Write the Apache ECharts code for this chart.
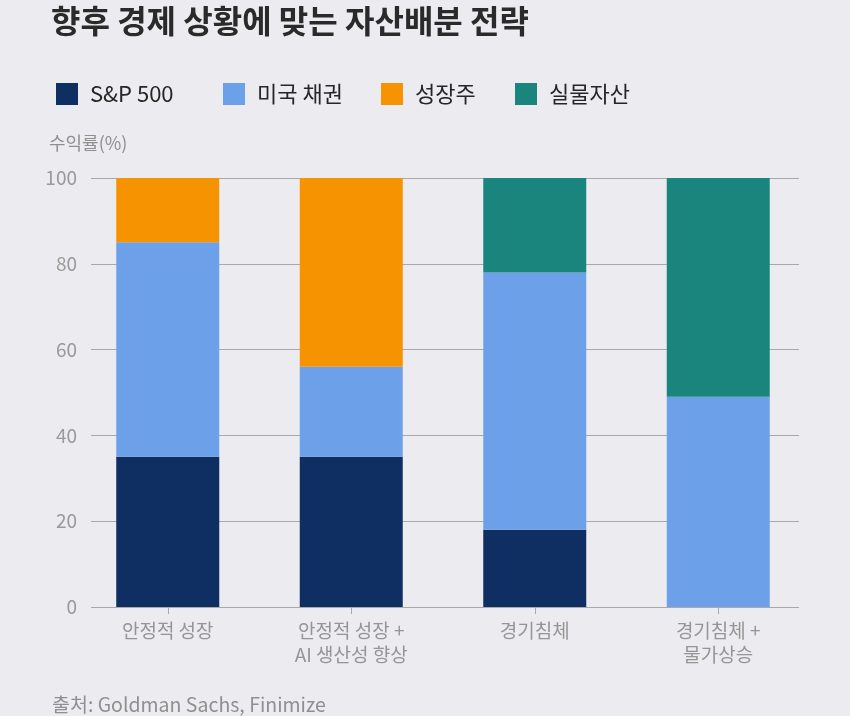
<!DOCTYPE html>
<html>
<head>
<meta charset="utf-8">
<script src="https://cdn.jsdelivr.net/npm/echarts@6/dist/echarts.min.js"></script>
<style>
  html, body { margin: 0; padding: 0; background: #ececf0; }
  #chart { width: 850px; height: 716px; }
</style>
</head>
<body>
<div id="chart"></div>
<script>
const categories = ['안정적 성장', '안정적 성장 +\nAI 생산성 향상', '경기침체', '경기침체 +\n물가상승']
const sp500 = [35, 35, 18, 0]
const bonds = [50, 21, 60, 49]
const growth = [15, 44, 0, 0]
const realAssets = [0, 0, 22, 51]
const yTicks = [0, 20, 40, 60, 80, 100]

const FONT = '"Noto Sans CJK KR", "Noto Sans", sans-serif'
const COLORS = {
  'S&P 500': '#0f2f62',
  '미국 채권': '#6ca0e8',
  '성장주': '#f59300',
  '실물자산': '#1a857d',
}

const chart = echarts.init(document.getElementById('chart'))

function bar(name, data) {
  return {
    name,
    type: 'bar',
    stack: 'total',
    barWidth: 103,
    xAxisIndex: 0,
    yAxisIndex: 0,
    itemStyle: { color: COLORS[name] },
    data: data.map(v => (v === 0 ? null : v)),
  }
}

// 범례는 항목별로 위치를 따로 잡음
const legendPos = [51, 218, 376, 510]
const legends = Object.keys(COLORS).map((name, i) => ({
  data: [name],
  left: legendPos[i],
  top: 78,
  itemWidth: 22,
  itemHeight: 22,
  icon: 'rect',
  selectedMode: false,
  textStyle: { color: '#262626', fontSize: 22, fontFamily: FONT, padding: [0, 0, 0, 7] },
}))

chart.setOption({
  backgroundColor: '#ececf0',
  animation: false,
  title: [
    {
      text: '향후 경제 상황에 맞는 자산배분 전략',
      left: 46,
      top: 0,
      textStyle: { color: '#2a2a2a', fontSize: 32, fontWeight: 'bold', fontFamily: FONT },
    },
    {
      text: '출처: Goldman Sachs, Finimize',
      left: 47,
      top: 690,
      textStyle: { color: '#8f8f8f', fontSize: 19.5, fontWeight: 'normal', fontFamily: FONT },
    },
  ],
  legend: legends,
  grid: [
    { left: 76, right: 40, top: 178, bottom: 109 },
    { left: 91, right: 51, top: 178, bottom: 109 },
  ],
  xAxis: [
    {
      type: 'category',
      gridIndex: 0,
      data: categories,
      axisLine: { show: false },
      axisTick: { show: true, alignWithLabel: true, length: 7, lineStyle: { color: '#a8a8a8' } },
      axisLabel: { color: '#959595', fontSize: 19, fontFamily: FONT, lineHeight: 24, margin: 12 },
    },
    { type: 'value', gridIndex: 1, show: false, min: 0, max: 1 },
  ],
  yAxis: [
    { type: 'value', gridIndex: 0, min: 0, max: 100, show: false },
    {
      type: 'value',
      gridIndex: 1,
      min: yTicks[0],
      max: yTicks[yTicks.length - 1],
      interval: 20,
      name: '수익률(%)',
      nameLocation: 'end',
      nameGap: 26,
      nameTextStyle: { color: '#8f8f8f', fontSize: 18, fontFamily: FONT, align: 'left', padding: [0, 0, 0, 49 - 91] },
      axisLine: { show: false },
      axisTick: { show: false },
      axisLabel: { color: '#9a9a9a', fontSize: 19, fontFamily: FONT, margin: 14 },
      splitLine: { lineStyle: { color: '#a9a9a9', width: 1 } },
    },
  ],
  series: [
    bar('S&P 500', sp500),
    bar('미국 채권', bonds),
    bar('성장주', growth),
    bar('실물자산', realAssets),
  ],
})
</script>
</body>
</html>
